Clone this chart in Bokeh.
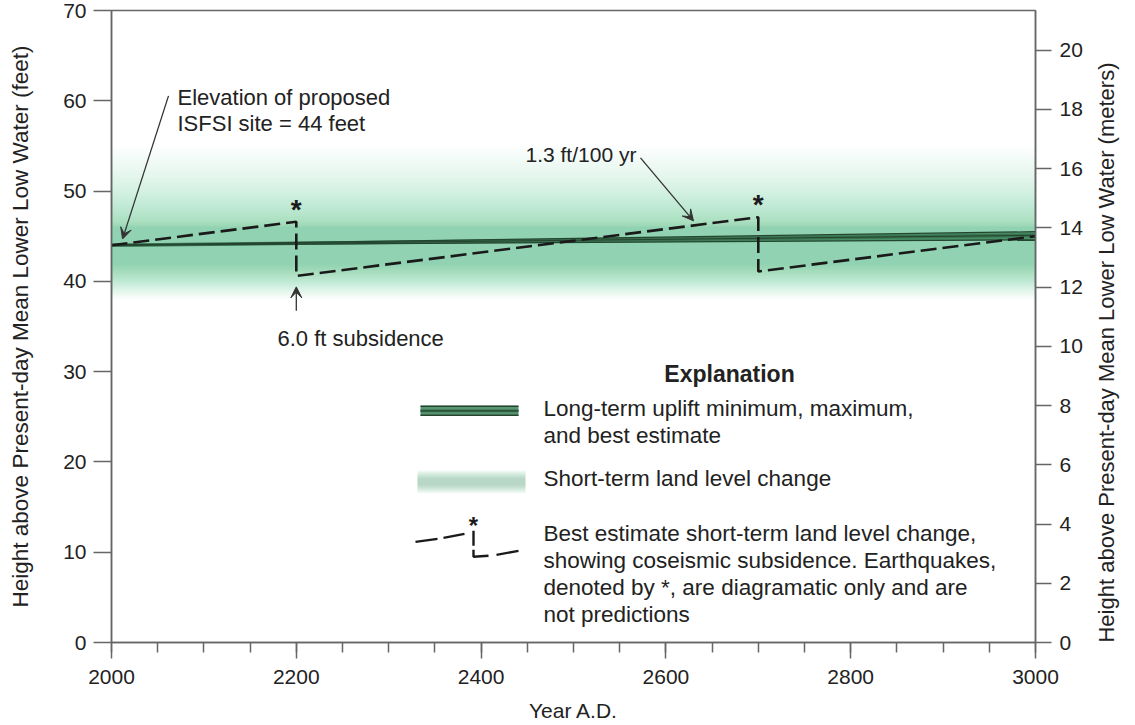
import math
import numpy as np
from bokeh.plotting import figure
from bokeh.models import (Range1d, LinearAxis, SingleIntervalTicker, Label, Arrow, VeeHead)
from bokeh.embed import file_html
from bokeh.resources import INLINE

# ---------------- data ----------------
dashed_years = [2000, 2200, 2200, 2700, 2700, 3000]
dashed_height_ft = [44.0, 46.6, 40.6, 47.1, 41.1, 45.0]
quake_years = [2200, 2700]
quake_top_ft = [46.6, 47.1]
lt_years = [2000, 3000]
lt_min_ft = [44.0, 44.6]
lt_best_ft = [44.0, 45.1]
lt_max_ft = [44.0, 45.5]
site_elev_ft = 44.0
band_low_ft = 38.0
band_high_ft = 55.0
ft_ticks_interval = 10
m_ticks_interval = 2
FT_TO_M = 0.3048

FONT = "Liberation Sans"
TXT = "#222222"
AX = "#666666"
GREEN = "#45b06e"
DARK = "#24452f"
MID = "#3a7250"

p = figure(width=1135, height=725, x_range=Range1d(2000, 3000), y_range=Range1d(0, 70),
           output_backend="svg", toolbar_location=None,
           min_border_left=111, min_border_right=100, min_border_top=10, min_border_bottom=83)
p.background_fill_color = "white"
p.border_fill_color = "white"
p.outline_line_color = AX
p.outline_line_width = 1.5
p.xgrid.visible = False
p.ygrid.visible = False

# px -> data helpers for annotation placement
def dx(px):
    return 2000 + (px - 111) / 0.924

def dy(py):
    return (641.7 - py) / 9.03

# ---------------- short-term band (nested translucent rects -> gradient) ----------------
n = 45
t = np.linspace(0, 1, n, endpoint=False)
bottoms = band_low_ft + 4.0 * t ** 0.9
tops = 46.0 + (band_high_ft - 46.0) * (1 - t) ** 2.2
p.quad(left=[2000] * n, right=[3000] * n, bottom=bottoms, top=tops,
       fill_color=GREEN, fill_alpha=0.016, line_color=None)

# ---------------- long-term uplift ----------------
p.varea(x=lt_years, y1=lt_min_ft, y2=lt_max_ft, fill_color="#3c8457", fill_alpha=0.85)
p.line(lt_years, lt_best_ft, line_color=MID, line_width=3.4)
p.line(lt_years, lt_max_ft, line_color=DARK, line_width=1.2)
p.line(lt_years, lt_min_ft, line_color=DARK, line_width=1.2)
p.line(lt_years, lt_best_ft, line_color=DARK, line_width=1.0)

# ---------------- best-estimate short term (dashed) ----------------
p.line(dashed_years, dashed_height_ft, line_color="#1a1a1a", line_width=2.6, line_dash="16 6")

# asterisks above earthquakes
for yr, top in zip(quake_years, quake_top_ft):
    p.add_layout(Label(x=yr, y=top + 1.4, text="*", text_font=FONT, text_font_size="28px",
                       text_font_style="bold", text_align="center", text_baseline="alphabetic",
                       text_color="#1a1a1a"))

# ---------------- axes ----------------
p.xaxis.ticker = SingleIntervalTicker(interval=200, num_minor_ticks=4)
p.xaxis.axis_label = "Year A.D."
p.yaxis.ticker = SingleIntervalTicker(interval=ft_ticks_interval, num_minor_ticks=0)
p.yaxis.axis_label = "Height above Present-day Mean Lower Low Water (feet)"

p.extra_y_ranges = {"m": Range1d(0, 70 * FT_TO_M)}
raxis = LinearAxis(y_range_name="m", ticker=SingleIntervalTicker(interval=m_ticks_interval, num_minor_ticks=0),
                   axis_label="Height above Present-day Mean Lower Low Water (meters)")
raxis.axis_label_orientation = math.pi / 2
try:
    raxis.axis_label_align = "start"
except Exception as e:
    print("no axis_label_align", e)
p.add_layout(raxis, "right")

for ax in [p.xaxis[0], p.yaxis[0], raxis]:
    ax.axis_line_color = AX
    ax.axis_line_width = 1.5
    ax.major_tick_line_color = AX
    ax.major_tick_line_width = 1.5
    ax.minor_tick_line_color = AX
    ax.minor_tick_line_width = 1.5
    ax.major_tick_in = 0
    ax.minor_tick_in = 0
    ax.major_label_text_font = FONT
    ax.major_label_text_font_size = "21px"
    ax.major_label_text_color = TXT
    ax.axis_label_text_font = FONT
    ax.axis_label_text_font_size = "22.5px"
    ax.axis_label_text_font_style = "normal"
    ax.axis_label_text_color = TXT

p.xaxis.major_tick_out = 16
p.xaxis.minor_tick_out = 10
p.xaxis.major_label_standoff = 11
p.xaxis.axis_label_standoff = 12
p.xaxis.axis_label_text_font_size = "21px"
p.yaxis[0].major_tick_out = 18
p.yaxis[0].major_label_standoff = 7
p.yaxis[0].axis_label_standoff = 27
raxis.major_tick_out = 16
raxis.major_label_standoff = 8
raxis.axis_label_standoff = 21
raxis.axis_label_text_font_size = "22px"
raxis.axis_label_text_line_height = 1.0

# ---------------- annotations ----------------
def lab(px, py, text, size="22.5px", style="normal", align="left"):
    p.add_layout(Label(x=dx(px), y=dy(py), text=text, text_font=FONT, text_font_size=size,
                       text_font_style=style, text_align=align, text_baseline="middle",
                       text_color=TXT))

def arrow(x0, y0, x1, y1):
    p.add_layout(Arrow(end=VeeHead(size=11, fill_color="#333333", line_color="#333333", line_width=1),
                       x_start=x0, y_start=y0, x_end=x1, y_end=y1,
                       line_color="#333333", line_width=1.3))

lab(177, 97, "Elevation of proposed", size="22px")
lab(177, 123, "ISFSI site = 44 feet", size="22px")
arrow(dx(168), dy(95), 2000 + 12, site_elev_ft + 0.7)

lab(525, 154, "1.3 ft/100 yr", size="21px")
arrow(dx(640), dy(157), dx(693), dy(220))

lab(277, 338, "6.0 ft subsidence", size="22px")
arrow(quake_years[0], dy(310), quake_years[0], dy(286))

# ---------------- explanation ----------------
lab(729, 373, "Explanation", size="23px", style="bold", align="center")
lab(543, 408, "Long-term uplift minimum, maximum,")
lab(543, 435, "and best estimate")
lab(543, 478, "Short-term land level change")
lab(543, 533, "Best estimate short-term land level change,")
lab(543, 560, "showing coseismic subsidence. Earthquakes,")
lab(543, 587, "denoted by *, are diagramatic only and are")
lab(543, 614, "not predictions")

# legend symbol 1
p.quad(left=[dx(420)], right=[dx(518)], bottom=[dy(415)], top=[dy(405)], fill_color="#3c8457",
       fill_alpha=0.85, line_color=None)
for yy, w, c in [(405.5, 1.5, DARK), (410, 2.6, MID), (410, 1.0, DARK), (414.5, 1.5, DARK)]:
    p.line([dx(420), dx(518)], [dy(yy), dy(yy)], line_color=c, line_width=w)

# legend symbol 2 (gradient)
m = 20
s = np.linspace(0, 1, m, endpoint=False)
lg_top = 469 + 9 * s
lg_bot = 493 - 9 * s
p.quad(left=[dx(417)] * m, right=[dx(525)] * m, bottom=[dy(v) for v in lg_bot], top=[dy(v) for v in lg_top],
       fill_color=GREEN, fill_alpha=0.025, line_color=None)

# legend symbol 3
segs_x = [[dx(415), dx(437)], [dx(443), dx(464)], [dx(473), dx(473)], [dx(473), dx(473), dx(488)], [dx(496), dx(518)]]
segs_y = [[dy(541), dy(538)], [dy(537), dy(533)], [dy(530), dy(545)], [dy(549), dy(556), dy(555)], [dy(554), dy(550)]]
p.multi_line(segs_x, segs_y, line_color="#1a1a1a", line_width=2.4)
p.add_layout(Label(x=dx(473), y=dy(525), text="*", text_font=FONT, text_font_size="24px",
                   text_font_style="bold", text_align="center", text_baseline="alphabetic",
                   text_color="#1a1a1a"))

open("out.html", "w").write(file_html(p, INLINE))
